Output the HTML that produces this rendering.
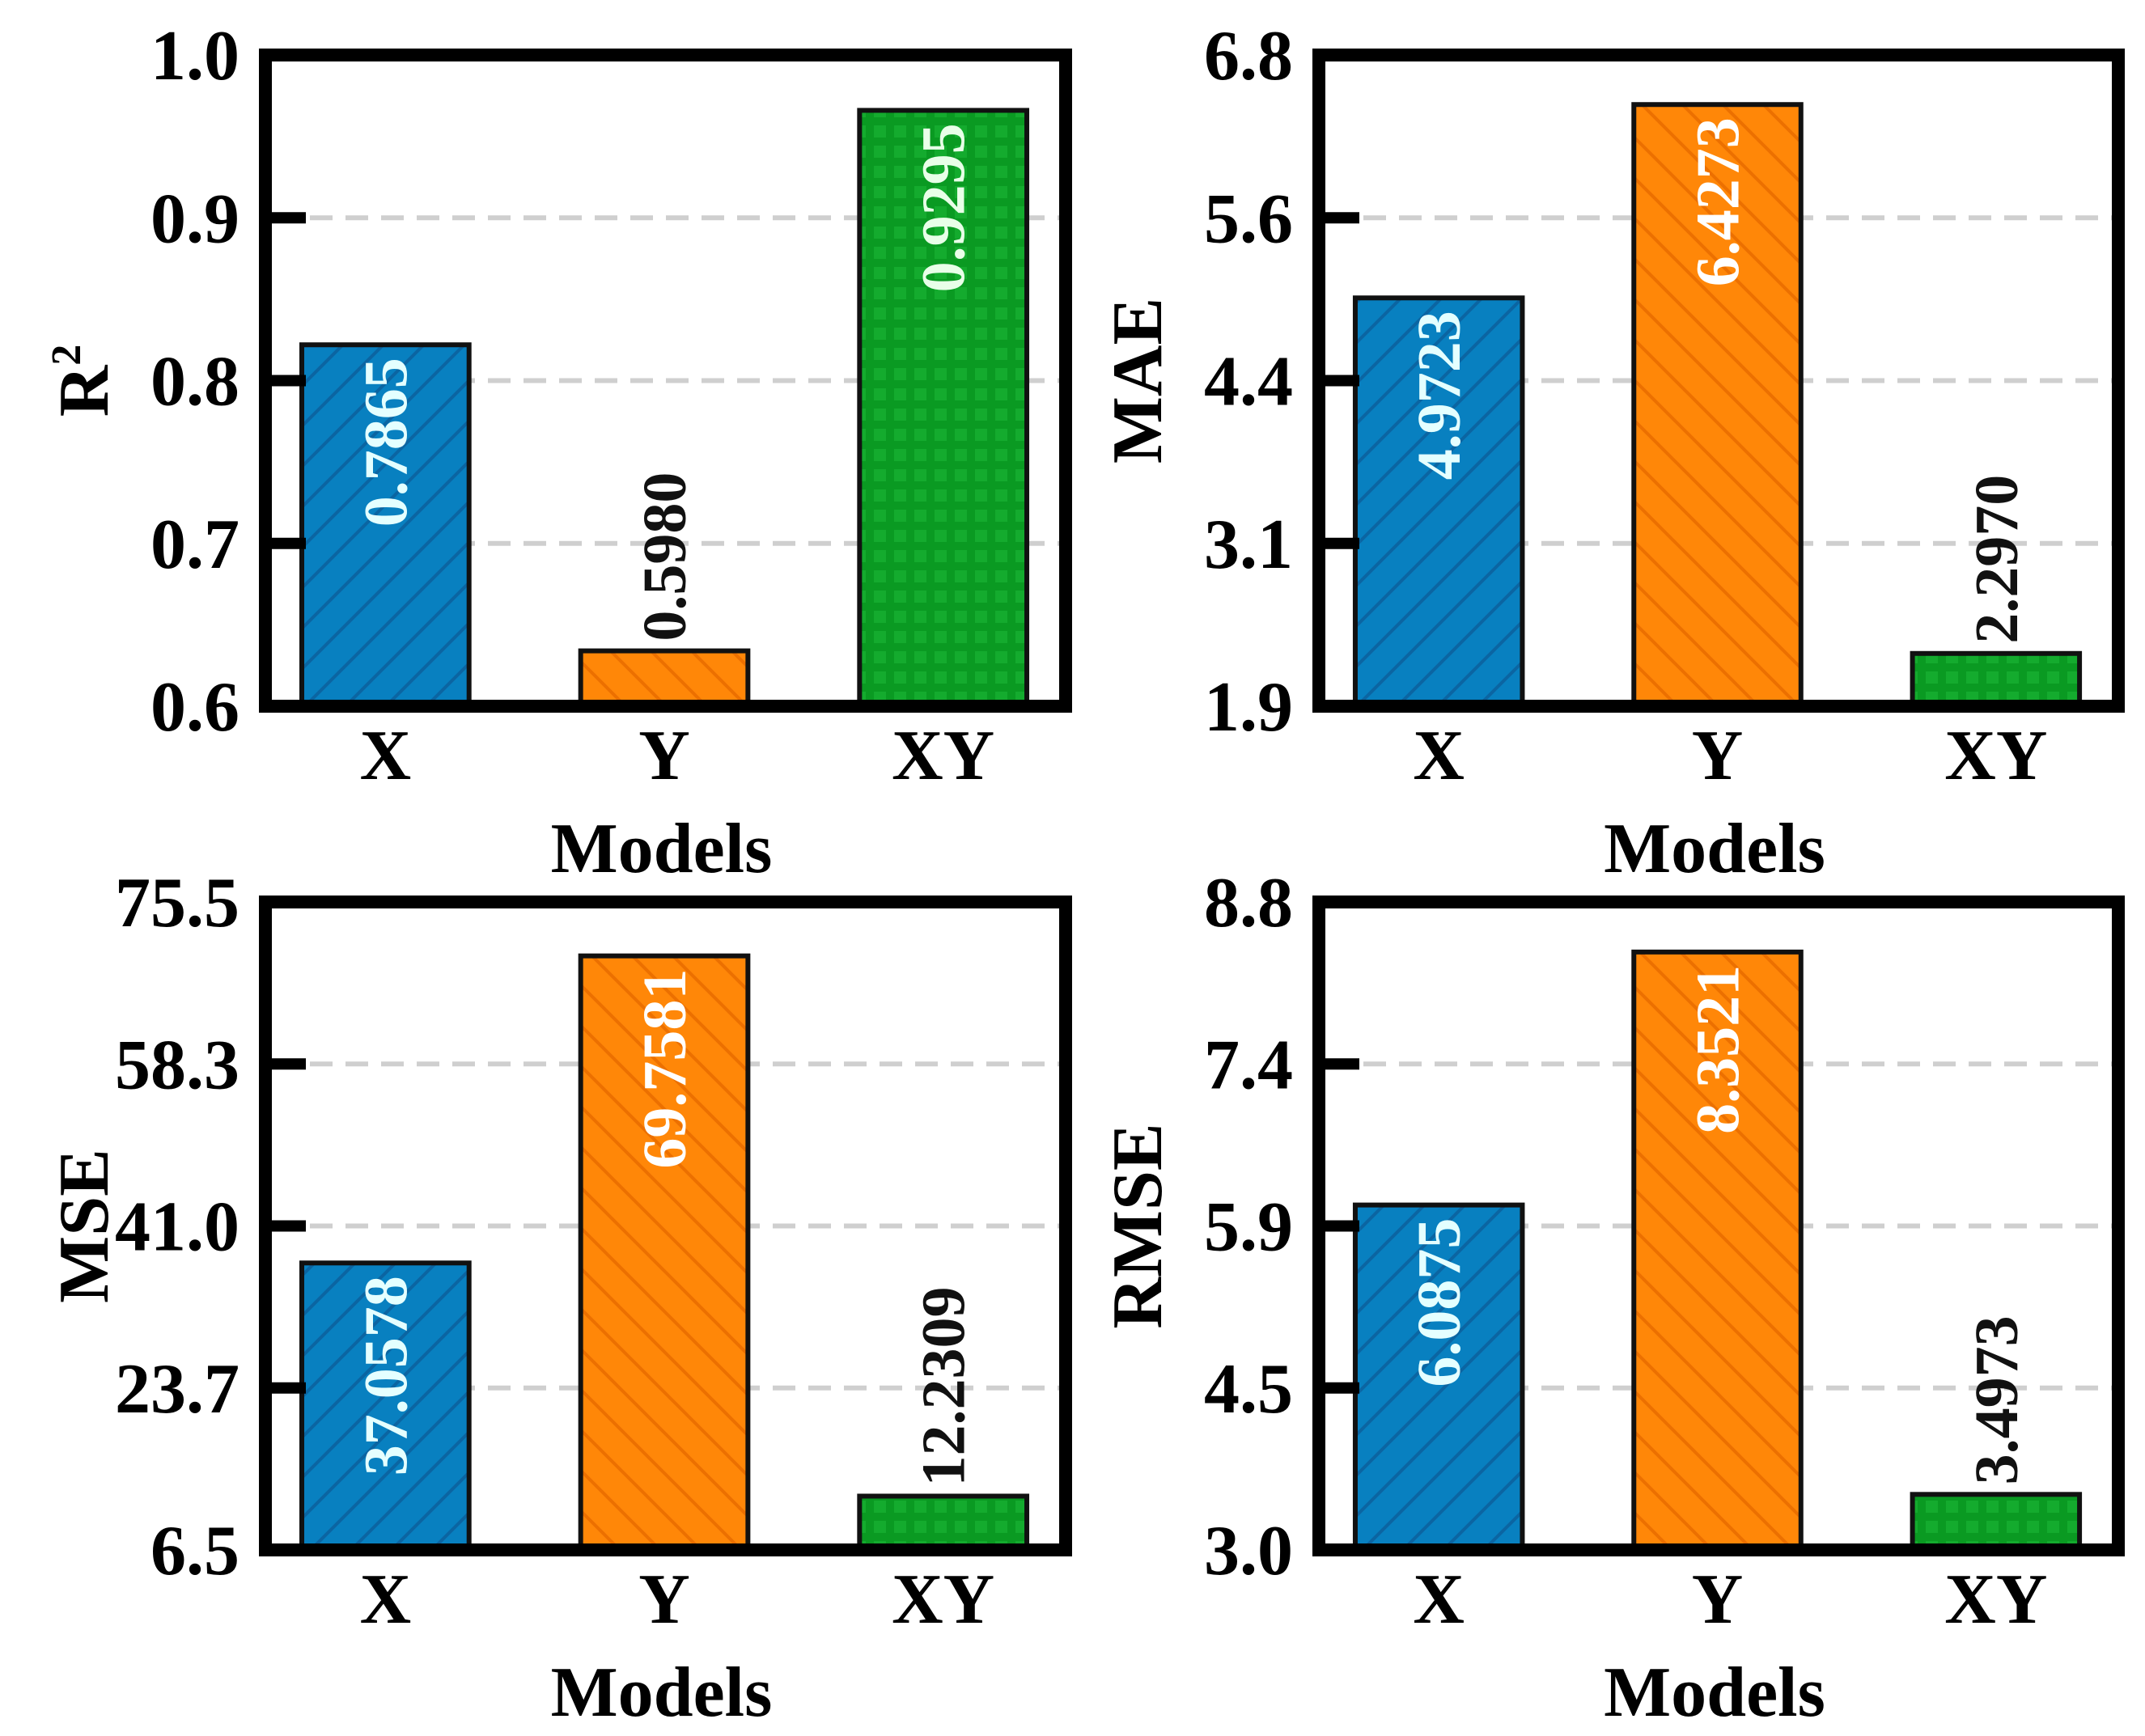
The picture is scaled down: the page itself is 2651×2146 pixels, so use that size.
<!DOCTYPE html>
<html><head><meta charset="utf-8">
<style>
html,body{margin:0;padding:0;background:#fff;}
svg{display:block;font-family:"Liberation Serif",serif;font-weight:bold;}
</style></head>
<body>
<svg id="fig" width="2651" height="2146" viewBox="0 0 2651 2146" xmlns="http://www.w3.org/2000/svg">
<defs>
<pattern id="hatchBlue" patternUnits="userSpaceOnUse" width="50" height="50">
<rect width="50" height="50" fill="#0880c0"/>
<path d="M-10,60 L60,-10 M-10,10 L10,-10 M40,60 L60,40" stroke="#0b65a2" stroke-width="4"/>
</pattern>
<pattern id="hatchOrange" patternUnits="userSpaceOnUse" width="50" height="50">
<rect width="50" height="50" fill="#ff8708"/>
<path d="M-10,-10 L60,60 M-10,40 L10,60 M40,-10 L60,10" stroke="#ec7000" stroke-width="4"/>
</pattern>
<pattern id="gridGreen" patternUnits="userSpaceOnUse" width="25" height="25">
<rect width="25" height="25" fill="#0a9a22"/>
<rect x="5" y="5" width="15" height="15" fill="#14ab2e"/>
</pattern>
</defs>
<g id="panels"></g>
</svg>
<script>
const categories = ["X", "Y", "XY"];
const r2Values = [0.822, 0.634, 0.966];
const r2Labels = ["0.7865", "0.5980", "0.9295"];
const r2Ticks = ["0.6", "0.7", "0.8", "0.9", "1.0"];
const maeValues = [4.9723, 6.4273, 2.2970];
const maeLabels = ["4.9723", "6.4273", "2.2970"];
const maeTicks = ["1.9", "3.1", "4.4", "5.6", "6.8"];
const mseValues = [37.0578, 69.7581, 12.2309];
const mseLabels = ["37.0578", "69.7581", "12.2309"];
const mseTicks = ["6.5", "23.7", "41.0", "58.3", "75.5"];
const rmseValues = [6.0875, 8.3521, 3.4973];
const rmseLabels = ["6.0875", "8.3521", "3.4973"];
const rmseTicks = ["3.0", "4.5", "5.9", "7.4", "8.8"];

const NS = "http://www.w3.org/2000/svg";
const root = document.getElementById("panels");
function el(tag, attrs, parent){
  const e = document.createElementNS(NS, tag);
  for (const k in attrs) e.setAttribute(k, attrs[k]);
  (parent||root).appendChild(e);
  return e;
}
const fills = ["url(#hatchBlue)", "url(#hatchOrange)", "url(#gridGreen)"];
const innerColors = ["#e4ffff", "#ffffff", "#e8ffe8"];

function panel(cfg){
  const {x0, x1, y0, y1, vmin, vmax, values, labels, ticks, title, key} = cfg;
  const g = el("g", {});
  
  
  const yScale = v => y1 - (v - vmin) / (vmax - vmin) * (y1 - y0);
  const w = x1 - x0;
  const xScale = i => x0 + w * (0.150 + i * 0.3485);
  const bw = w * 0.209;
  ticks.forEach((t, i) => {
    const v = vmin + (vmax - vmin) * i / (ticks.length - 1);
    const y = yScale(v);
    if (i > 0 && i < ticks.length - 1) {
      const gl = el("line", {x1: x0 + 55, x2: x1 - 8, y1: y, y2: y, stroke: "#cfcfcf", "stroke-width": 6, "stroke-dasharray": "28,16"}, g);
      
      
    }
  });
  values.forEach((v, i) => {
    const cx = xScale(i);
    const top = yScale(v);
    const r = el("rect", {x: cx - bw/2, y: top, width: bw, height: y1 - top, fill: fills[i], stroke: "#111", "stroke-width": 6}, g);
    
    
    const inside = (y1 - top) > 330;
    const tx = cx + 26;
    const ty = inside ? top + 16 : top - 12;
    const t = el("text", {x: tx, y: ty, transform: `rotate(-90 ${tx} ${ty})`, "text-anchor": inside ? "end" : "start", "font-size": 76, fill: inside ? innerColors[i] : "#111"}, g);
    t.textContent = labels[i];
    
    
  });
  const f = el("rect", {x: x0, y: y0, width: w, height: y1 - y0, fill: "none", stroke: "#000", "stroke-width": 16}, g);
  
  
  ticks.forEach((t, i) => {
    const v = vmin + (vmax - vmin) * i / (ticks.length - 1);
    const y = yScale(v);
    if (i > 0 && i < ticks.length - 1) {
      const tk = el("line", {x1: x0, x2: x0 + 50, y1: y, y2: y, stroke: "#000", "stroke-width": 14}, g);
      
      
    }
    const lb = el("text", {x: x0 - 32, y: y + 30, "text-anchor": "end", "font-size": 88, fill: "#000"}, g);
    lb.textContent = t;
    
    
  });
  categories.forEach((c, i) => {
    const lb = el("text", {x: xScale(i), y: y1 + 90, "text-anchor": "middle", "font-size": 88, fill: "#000"}, g);
    lb.textContent = c;
    
    
  });
  const xt = el("text", {x: (x0 + x1) / 2 - 5, y: y1 + 205, "text-anchor": "middle", "font-size": 88, fill: "#000"}, g);
  xt.textContent = "Models";
  
  
  const ax = x0 - 195, ay = (y0 + y1) / 2;
  const yt = el("text", {x: ax, y: ay, transform: `rotate(-90 ${ax} ${ay})`, "text-anchor": "middle", "font-size": 88, fill: "#000"}, g);
  if (title === "R2") {
    yt.textContent = "R";
    const sup = el("tspan", {"font-size": 52, dy: -34}, yt);
    sup.textContent = "2";
  } else {
    yt.textContent = title;
  }
  
  
}

panel({x0: 328, x1: 1317, y0: 68, y1: 873, vmin: 0.6, vmax: 1.0, values: r2Values, labels: r2Labels, ticks: r2Ticks, title: "R2", key: "r2"});
panel({x0: 1630, x1: 2618, y0: 68, y1: 873, vmin: 1.9, vmax: 6.8, values: maeValues, labels: maeLabels, ticks: maeTicks, title: "MAE", key: "mae"});
panel({x0: 328, x1: 1317, y0: 1115, y1: 1916, vmin: 6.5, vmax: 75.5, values: mseValues, labels: mseLabels, ticks: mseTicks, title: "MSE", key: "mse"});
panel({x0: 1630, x1: 2618, y0: 1115, y1: 1916, vmin: 3.0, vmax: 8.8, values: rmseValues, labels: rmseLabels, ticks: rmseTicks, title: "RMSE", key: "rmse"});
</script>
</body></html>
